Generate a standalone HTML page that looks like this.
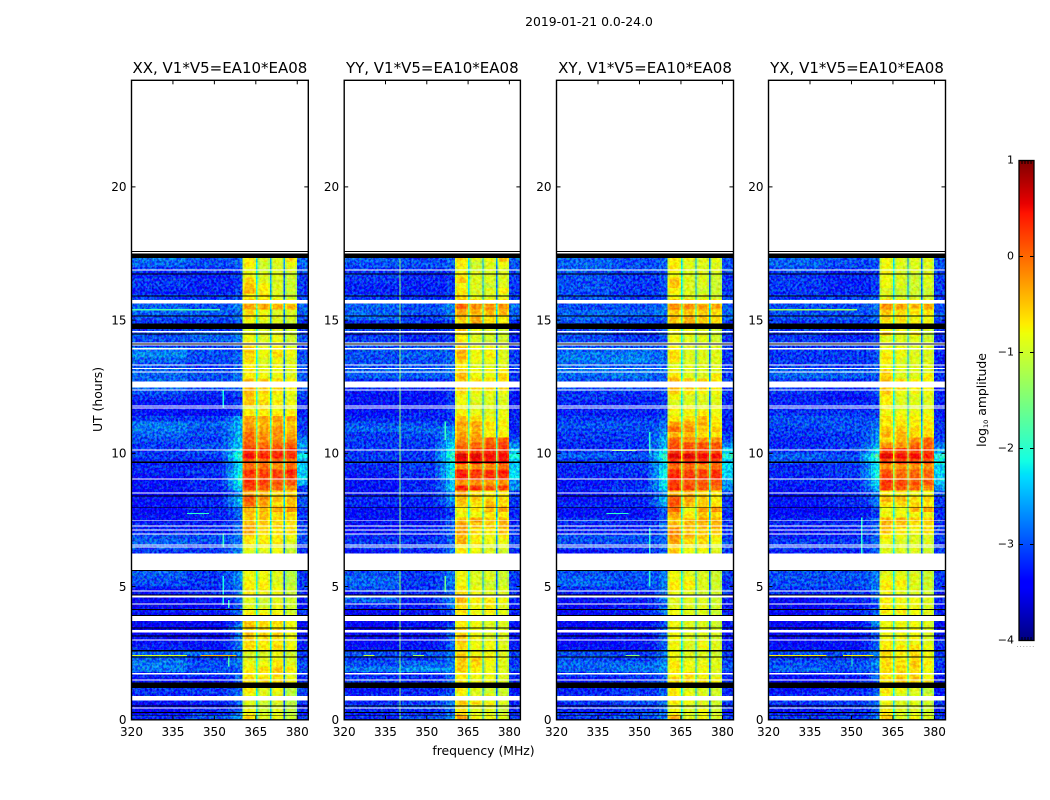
<!DOCTYPE html>
<html lang="en">
<head>
<meta charset="utf-8">
<title>2019-01-21 dynamic spectra</title>
<style>
html,body{margin:0;padding:0;background:#fff;width:1050px;height:800px;overflow:hidden}
svg{display:block}
text{font-family:"DejaVu Sans","Liberation Sans",sans-serif;fill:#000}
</style>
</head>
<body>
<svg id="figure" xmlns="http://www.w3.org/2000/svg" width="1050" height="800" viewBox="0 0 1050 800">
  <defs>
    <filter id="grain-strong" x="0" y="0" width="100%" height="100%" color-interpolation-filters="sRGB">
      <feTurbulence type="fractalNoise" baseFrequency="0.42 0.38" numOctaves="2" seed="11" result="n"/>
      <feColorMatrix in="n" type="matrix" values="1.5 0 0 0 -0.25  0 3.2 0 0 -1.1  0 0 3.2 0 -1.1  0 0 0 0 1" result="m"/>
      <feComposite in="SourceGraphic" in2="m" operator="arithmetic" k1="0" k2="1" k3="0.42" k4="-0.21"/>
    </filter>
    <filter id="grain-soft" x="0" y="0" width="100%" height="100%" color-interpolation-filters="sRGB">
      <feTurbulence type="fractalNoise" baseFrequency="0.3 0.35" numOctaves="2" seed="23" result="n"/>
      <feColorMatrix in="n" type="matrix" values="1.5 0 0 0 -0.25  0 3.2 0 0 -1.1  0 0 3.2 0 -1.1  0 0 0 0 1" result="m"/>
      <feComposite in="SourceGraphic" in2="m" operator="arithmetic" k1="0" k2="1" k3="0.22" k4="-0.11"/>
    </filter>
  </defs>
  <text x="589" y="26" font-size="12.4" text-anchor="middle">2019-01-21 0.0-24.0</text>
  <text x="483.5" y="755" font-size="12.4" text-anchor="middle">frequency (MHz)</text>
  <text transform="translate(102,399.5) rotate(-90)" font-size="12.4" text-anchor="middle">UT (hours)</text>
  <text transform="translate(986,400) rotate(-90)" font-size="12.4" text-anchor="middle">log<tspan font-size="6.5" dy="2">10</tspan><tspan dy="-2"> amplitude</tspan></text>
  <text x="1026" y="647" font-size="6" text-anchor="middle" letter-spacing="1.2" style="fill:#555">......</text>
</svg>
<script>
// ---------- data ----------
const panelLabels = ['XX, V1*V5=EA10*EA08', 'YY, V1*V5=EA10*EA08', 'XY, V1*V5=EA10*EA08', 'YX, V1*V5=EA10*EA08'];
const freqTicks = [320, 335, 350, 365, 380];
const utTicks = [0, 5, 10, 15, 20];
const colorTicks = [1, 0, -1, -2, -3, -4];
const rowStepHours = 0.2;

// Frequency channels (MHz edges), the level column each reads, how much of that column
// blends with the 340-353 column (band skirt), and a bandpass offset (tenths of log10).
const channelEdges  = [320, 330, 340, 347, 353, 355, 357, 358.5, 360.2, 360.9, 364.3, 365, 365.6, 366.3, 369.5, 370.2, 370.65, 371.3, 374.4, 375.1, 375.6, 376.3, 379.2, 379.9, 384];
const channelSource = [0, 0, 1, 1, 2, 2, 2, 2, 3, 3, 3, 4, 4, 4, 4, 5, 5, 5, 5, 6, 6, 6, 6, 7];
const channelBlend  = [1, 1, 1, 1, 0.25, 0.5, 0.75, 1, 1, 1, 1, 1, 1, 1, 1, 1, 1, 1, 1, 1, 1, 1, 1, 1];
const channelOffset = [-2, -2, -2, -2, -2, -2, -1, -1, -4, -1, -3, -14, -4, -1, -3, -17, -4, -1, -3, -20, -4, -1, -3, 0];

// Level rows (tenths of log10 amplitude), from 0 UT upward, one row per 0.2 h.
// Columns: 320-340, 340-353, 353-360, band1, band2, band3, band4, 380-384
const xxLevels = [
[-30,-28,-26,-5,-8,-7,-9,-31],[-32,-30,-28,-7,-9,-8,-10,-32],[-32,-31,-29,-8,-9,-8,-10,-33],[-31,-30,-28,-8,-9,-8,-10,-31],
[-30,-30,-28,-7,-8,-8,-10,-31],[-29,-29,-28,-6,-8,-7,-10,-30],[-30,-30,-29,-6,-7,-7,-9,-32],[-31,-31,-28,-5,-5,-5,-7,-32],
[-30,-29,-28,-6,-6,-5,-8,-31],[-26,-28,-28,-6,-5,-4,-6,-30],[-26,-28,-27,-7,-7,-6,-8,-30],[-27,-29,-27,-8,-8,-7,-8,-31],
[-27,-27,-27,-8,-8,-7,-9,-31],[-30,-31,-27,-5,-6,-5,-7,-32],[-31,-31,-27,-5,-6,-6,-7,-32],[-33,-33,-27,-4,-5,-5,-7,-33],
[-32,-32,-27,-4,-5,-5,-7,-33],[-32,-32,-26,-4,-5,-6,-7,-33],[-33,-33,-28,-4,-5,-5,-7,-33],[-32,-32,-28,-6,-6,-6,-8,-32],
[-31,-30,-28,-7,-7,-7,-9,-31],[-33,-33,-28,-8,-9,-7,-9,-33],[-32,-31,-28,-8,-9,-8,-9,-32],[-31,-30,-26,-6,-7,-7,-9,-32],
[-31,-30,-27,-6,-6,-7,-9,-31],[-28,-29,-26,-6,-6,-8,-10,-31],[-28,-29,-26,-7,-7,-8,-10,-31],[-27,-29,-26,-7,-7,-8,-10,-31],
[-29,-29,-27,-7,-7,-8,-10,-31],[-29,-29,-27,-7,-7,-8,-10,-31],[-29,-29,-27,-7,-7,-8,-10,-31],
[-29,-29,-26,-8,-8,-7,-9,-32],[-28,-29,-26,-7,-7,-7,-9,-31],[-27,-28,-27,-6,-6,-6,-8,-30],[-28,-28,-27,-5,-6,-6,-7,-30],
[-30,-30,-28,-2,-5,-6,-5,-30],[-30,-30,-28,-3,-4,-5,-6,-31],[-31,-31,-28,-4,-4,-5,-5,-31],[-31,-30,-28,-4,-4,-5,-5,-31],
[-32,-30,-27,-3,-3,-2,-1,-31],[-31,-30,-24,1,-2,-5,-4,-30],[-31,-30,-23,2,-1,-4,-3,-30],[-32,-31,-26,-2,-3,-5,-5,-31],
[-31,-30,-22,3,2,1,-1,-31],
[-31,-30,-20,4,3,2,2,-25],[-31,-30,-19,3,3,3,3,-24],[-30,-29,-21,4,3,3,5,-24],[-30,-30,-22,1,1,-1,1,-24],
[-30,-30,-20,2,1,1,1,-25],[-29,-29,-18,6,5,5,4,-22],[-29,-28,-21,4,3,3,4,-27],[-29,-28,-23,2,1,1,2,-26],
[-28,-29,-23,1,-1,-1,-1,-28],[-27,-28,-24,1,-1,-1,-2,-30],[-26,-28,-24,-1,-2,-1,-3,-31],[-26,-27,-24,-2,-3,-3,-4,-31],
[-29,-29,-25,-2,-2,-2,-2,-31],[-31,-31,-30,-6,-6,-6,-6,-32],[-31,-31,-30,-7,-6,-7,-7,-32],[-31,-31,-30,-4,-5,-6,-7,-32],
[-29,-30,-30,-4,-6,-7,-8,-31],[-28,-29,-29,-3,-5,-6,-7,-30],
[-27,-28,-28,-3,-4,-5,-6,-30],[-27,-28,-28,-3,-4,-5,-6,-30],[-27,-28,-27,-6,-7,-7,-8,-29],[-27,-28,-28,-6,-7,-7,-8,-30],
[-28,-29,-28,-6,-8,-7,-8,-30],[-27,-28,-28,-5,-8,-7,-8,-30],[-25,-28,-28,-5,-7,-5,-7,-30],[-26,-28,-29,-4,-7,-6,-7,-31],
[-29,-29,-29,-6,-8,-7,-9,-31],[-28,-27,-27,-7,-8,-7,-9,-30],[-28,-27,-27,-7,-8,-8,-9,-30],[-29,-29,-29,-8,-8,-8,-9,-31],
[-29,-29,-29,-7,-8,-8,-9,-31],[-28,-28,-28,-6,-7,-8,-8,-30],[-27,-27,-28,-5,-7,-8,-8,-29],[-27,-28,-26,-2,-2,-3,-3,-29],
[-28,-28,-28,-4,-5,-6,-7,-30],[-29,-29,-29,-6,-6,-8,-9,-30],[-30,-30,-30,-3,-6,-8,-9,-31],[-29,-30,-30,-4,-6,-8,-9,-31],
[-29,-30,-30,-5,-8,-8,-9,-31],[-30,-30,-30,-7,-8,-8,-9,-31],[-29,-29,-29,-7,-9,-8,-8,-30],[-27,-28,-28,-6,-9,-8,-7,-29],
[-26,-28,-28,-6,-8,-8,-5,-29]
];
const yyLevels = [
[-30,-28,-26,-2,-7,-7,-8,-31],[-30,-30,-28,-5,-8,-8,-9,-32],[-29,-28,-26,-5,-7,-7,-9,-32],[-30,-29,-27,-4,-5,-7,-8,-32],
[-30,-30,-28,-7,-8,-8,-9,-32],[-31,-30,-29,-6,-8,-9,-9,-33],[-31,-30,-29,-5,-7,-8,-9,-33],[-29,-30,-28,-6,-7,-7,-8,-32],
[-30,-30,-28,-6,-7,-7,-8,-32],[-26,-25,-26,-4,-6,-7,-8,-30],[-28,-27,-27,-4,-5,-7,-8,-31],[-29,-29,-27,-4,-4,-6,-8,-31],
[-28,-28,-27,-5,-7,-7,-8,-31],[-31,-31,-28,-5,-7,-7,-8,-32],[-32,-31,-28,-4,-7,-7,-8,-33],[-32,-31,-28,-4,-7,-8,-8,-33],
[-32,-31,-28,-5,-7,-8,-8,-33],[-32,-31,-29,-6,-7,-8,-8,-33],[-32,-31,-30,-6,-7,-8,-8,-33],[-32,-31,-29,-6,-7,-7,-8,-33],
[-32,-31,-28,-5,-7,-6,-8,-32],[-30,-31,-27,-5,-7,-6,-8,-33],[-27,-30,-26,-3,-6,-6,-7,-32],[-31,-30,-27,-5,-7,-8,-8,-32],
[-28,-29,-27,-6,-7,-8,-8,-31],[-27,-29,-27,-7,-8,-9,-9,-31],[-27,-29,-27,-7,-8,-8,-9,-31],[-28,-29,-27,-7,-8,-8,-9,-31],
[-29,-29,-27,-7,-8,-8,-9,-31],[-29,-29,-27,-7,-8,-8,-9,-31],[-29,-29,-27,-7,-8,-8,-9,-31],
[-31,-30,-27,-6,-7,-8,-9,-32],[-29,-29,-28,-6,-7,-8,-8,-31],[-29,-29,-28,-3,-6,-7,-7,-31],[-30,-30,-28,-3,-6,-7,-6,-31],
[-31,-30,-28,-2,-5,-6,-4,-31],[-31,-31,-28,-2,-4,-4,-3,-32],[-31,-31,-28,-4,-2,-4,-3,-32],[-31,-31,-30,-7,-7,-6,-6,-32],
[-31,-31,-29,-6,-6,-3,-2,-32],[-30,-30,-27,-4,-6,-3,-5,-31],[-30,-30,-25,-3,-4,-5,-5,-31],[-31,-30,-26,-2,-5,-6,-6,-31],
[-31,-30,-22,5,4,2,3,-26],
[-31,-30,-24,-1,-1,-2,-1,-27],[-31,-30,-21,5,3,4,4,-23],[-30,-29,-20,5,4,4,5,-23],[-30,-29,-22,-1,-1,-1,1,-24],
[-29,-29,-20,6,6,5,5,-24],[-29,-29,-18,7,7,6,6,-21],[-29,-29,-20,2,3,4,4,-24],[-29,-29,-22,1,1,2,3,-27],
[-29,-29,-24,-1,-1,1,2,-30],[-29,-28,-25,-2,-2,-6,-6,-32],[-27,-27,-26,-3,-3,-6,-7,-32],[-28,-28,-29,-2,-2,-5,-6,-32],
[-30,-30,-30,-4,-5,-7,-7,-32],[-31,-30,-30,-6,-7,-8,-7,-32],[-31,-31,-30,-7,-8,-8,-8,-33],[-31,-31,-30,-7,-8,-8,-8,-33],
[-31,-31,-30,-7,-8,-8,-8,-33],[-30,-31,-30,-5,-7,-7,-7,-32],
[-30,-30,-30,-4,-5,-5,-5,-32],[-30,-30,-30,-4,-5,-5,-5,-32],[-27,-27,-28,-3,-7,-7,-5,-31],[-27,-27,-27,-5,-7,-7,-6,-31],
[-28,-28,-28,-6,-8,-8,-8,-31],[-28,-28,-28,-4,-7,-7,-8,-31],[-28,-27,-28,-3,-7,-6,-8,-31],[-28,-28,-28,-3,-7,-7,-8,-32],
[-28,-28,-29,-5,-8,-8,-8,-32],[-29,-30,-30,-6,-8,-9,-9,-32],[-29,-30,-30,-6,-8,-8,-9,-32],[-29,-29,-30,-4,-7,-8,-9,-32],
[-29,-29,-30,-5,-2,-5,-6,-32],[-27,-29,-27,-4,-3,-5,-6,-29],[-27,-28,-27,-2,-3,-3,-3,-29],[-27,-28,-26,1,-1,-1,-1,-28],
[-28,-28,-28,-4,-5,-6,-6,-30],[-29,-30,-30,-5,-8,-8,-8,-31],[-30,-30,-30,-6,-8,-8,-6,-31],[-30,-30,-30,-7,-8,-9,-8,-31],
[-29,-30,-30,-4,-8,-8,-8,-31],[-29,-30,-30,-6,-8,-8,-8,-31],[-29,-29,-29,-7,-9,-8,-8,-30],[-28,-28,-28,-6,-9,-8,-7,-30],
[-27,-28,-28,-5,-8,-7,-4,-29]
];
const xyLevels = [
[-29,-28,-27,-3,-8,-7,-8,-31],[-30,-29,-28,-7,-8,-7,-9,-32],[-30,-29,-28,-7,-8,-8,-9,-32],[-29,-28,-27,-6,-7,-8,-9,-31],
[-30,-29,-28,-6,-7,-8,-9,-32],[-30,-29,-28,-6,-8,-8,-9,-32],[-30,-30,-28,-6,-7,-8,-9,-32],[-31,-30,-28,-5,-5,-6,-7,-32],
[-29,-29,-28,-6,-5,-7,-8,-32],[-27,-26,-26,-6,-7,-7,-8,-30],[-27,-27,-26,-6,-7,-7,-8,-30],[-28,-29,-27,-7,-8,-8,-8,-31],
[-28,-29,-27,-7,-8,-8,-9,-31],[-31,-31,-28,-7,-8,-7,-8,-32],[-32,-31,-28,-7,-8,-7,-8,-32],[-32,-31,-28,-7,-8,-8,-9,-33],
[-32,-31,-28,-7,-8,-8,-8,-33],[-32,-31,-29,-7,-8,-8,-9,-33],[-33,-32,-29,-7,-8,-8,-9,-33],[-32,-31,-28,-7,-8,-8,-9,-33],
[-32,-30,-27,-7,-8,-8,-9,-32],[-33,-31,-28,-8,-8,-8,-9,-33],[-31,-30,-27,-8,-8,-8,-9,-32],[-31,-30,-28,-7,-8,-9,-9,-32],
[-29,-29,-27,-6,-7,-8,-9,-31],[-27,-28,-27,-6,-6,-8,-9,-31],[-27,-28,-27,-7,-7,-8,-9,-31],[-28,-28,-27,-7,-8,-8,-9,-31],
[-29,-29,-27,-7,-8,-8,-9,-31],[-29,-29,-27,-7,-8,-8,-9,-31],[-29,-29,-27,-7,-8,-8,-9,-31],
[-31,-30,-28,-4,-7,-7,-8,-31],[-29,-29,-28,-5,-7,-6,-8,-31],[-28,-28,-28,-2,-5,-5,-7,-30],[-28,-28,-28,-1,-3,-4,-6,-31],
[-30,-30,-28,-1,-4,-4,-4,-31],[-30,-30,-27,-3,-3,-3,-3,-31],[-29,-30,-28,-4,-3,-2,-3,-31],[-31,-31,-29,-2,-6,-4,-5,-32],
[-31,-31,-28,1,-7,-2,-1,-31],[-30,-30,-24,2,-3,-4,-6,-31],[-31,-30,-24,2,-2,-4,-6,-31],[-31,-30,-26,-3,-3,-5,-6,-30],
[-30,-29,-22,4,3,2,1,-27],
[-31,-30,-21,3,2,2,2,-26],[-30,-30,-20,5,4,3,4,-24],[-30,-29,-20,4,3,3,4,-23],[-30,-29,-22,1,1,-1,1,-23],
[-29,-29,-20,4,4,4,3,-24],[-27,-28,-18,7,7,6,6,-20],[-29,-29,-21,3,3,3,2,-24],[-30,-29,-24,2,2,2,2,-27],
[-29,-29,-24,1,-1,-1,-1,-30],[-29,-29,-25,-3,-3,-5,-6,-31],[-28,-28,-27,1,-1,-4,-4,-32],[-28,-28,-28,-2,-2,-3,-6,-32],
[-29,-29,-29,-6,-5,-3,-6,-32],[-30,-30,-30,-7,-7,-6,-7,-32],[-30,-30,-30,-6,-6,-7,-7,-32],[-30,-30,-30,-8,-8,-8,-8,-32],
[-29,-30,-30,-7,-8,-8,-8,-32],[-29,-29,-29,-4,-6,-7,-7,-31],
[-28,-28,-29,-3,-4,-4,-6,-31],[-28,-28,-29,-3,-4,-4,-6,-31],[-27,-26,-28,-5,-8,-8,-6,-31],[-26,-26,-27,-7,-8,-8,-8,-31],
[-27,-27,-28,-8,-8,-8,-8,-31],[-26,-25,-28,-6,-8,-8,-8,-31],[-26,-26,-28,-5,-8,-8,-8,-31],[-27,-27,-28,-6,-8,-8,-8,-31],
[-28,-28,-29,-7,-8,-8,-8,-31],[-28,-29,-29,-7,-8,-8,-9,-31],[-28,-29,-29,-7,-7,-8,-9,-31],[-28,-29,-29,-7,-7,-8,-9,-31],
[-28,-28,-29,-4,-2,-4,-5,-30],[-27,-28,-28,-4,-3,-4,-5,-29],[-27,-27,-27,-4,-4,-4,-5,-29],[-28,-28,-27,-1,-1,-2,-2,-29],
[-28,-28,-28,-4,-5,-6,-6,-30],[-28,-29,-29,-7,-8,-8,-9,-31],[-28,-29,-29,-6,-8,-9,-9,-31],[-28,-29,-29,-4,-8,-8,-9,-31],
[-28,-29,-29,-4,-8,-8,-9,-31],[-28,-29,-29,-7,-8,-8,-9,-31],[-27,-28,-28,-6,-8,-8,-8,-30],[-27,-28,-28,-6,-8,-8,-8,-30],
[-27,-28,-28,-6,-7,-8,-8,-30]
];
const yxLevels = [
[-29,-29,-27,-4,-8,-7,-8,-31],[-31,-30,-29,-6,-8,-8,-9,-32],[-30,-29,-28,-7,-8,-8,-9,-32],[-29,-29,-28,-7,-8,-8,-9,-31],
[-30,-30,-28,-7,-8,-8,-9,-32],[-31,-30,-29,-6,-7,-8,-10,-33],[-31,-30,-29,-6,-7,-8,-10,-33],[-32,-31,-28,-5,-4,-4,-6,-33],
[-31,-30,-28,-6,-5,-5,-7,-32],[-27,-28,-27,-5,-5,-5,-7,-31],[-28,-28,-26,-5,-5,-4,-6,-31],[-29,-29,-27,-5,-6,-5,-7,-31],
[-28,-28,-27,-5,-6,-5,-7,-31],[-31,-31,-28,-6,-6,-5,-7,-32],[-32,-31,-28,-6,-7,-7,-8,-32],[-32,-32,-29,-7,-7,-7,-8,-33],
[-32,-31,-28,-7,-7,-7,-8,-33],[-32,-31,-27,-7,-7,-7,-8,-33],[-33,-32,-25,-7,-7,-7,-8,-33],[-32,-31,-28,-7,-7,-7,-8,-33],
[-32,-30,-28,-6,-6,-7,-8,-32],[-33,-32,-29,-6,-7,-7,-8,-33],[-32,-30,-28,-6,-7,-7,-8,-32],[-30,-30,-28,-7,-8,-8,-9,-32],
[-29,-29,-27,-6,-7,-8,-9,-31],[-28,-28,-27,-6,-6,-8,-9,-31],[-28,-28,-27,-7,-7,-8,-9,-31],[-28,-28,-27,-8,-8,-8,-9,-31],
[-29,-29,-27,-8,-8,-8,-9,-31],[-29,-29,-27,-8,-8,-8,-9,-31],[-29,-29,-27,-8,-8,-8,-9,-31],
[-30,-30,-28,-8,-8,-8,-9,-31],[-29,-29,-28,-8,-8,-8,-9,-31],[-29,-29,-28,-7,-8,-8,-8,-31],[-30,-30,-28,-6,-7,-8,-8,-31],
[-31,-30,-28,-4,-6,-7,-5,-31],[-30,-30,-28,-3,-4,-6,-5,-31],[-30,-30,-28,-3,-3,-4,-4,-32],[-31,-31,-30,-7,-7,-7,-7,-32],
[-32,-31,-30,-7,-7,-3,-2,-32],[-31,-30,-27,-5,-5,-5,-6,-31],[-31,-30,-27,-3,-3,-5,-5,-31],[-31,-30,-27,-6,-6,-7,-7,-30],
[-31,-30,-24,3,2,1,-1,-27],
[-30,-30,-22,4,3,2,2,-24],[-30,-29,-20,3,1,1,1,-24],[-30,-29,-20,2,1,1,1,-23],[-30,-29,-22,-1,-1,-1,-1,-24],
[-28,-28,-19,3,3,3,2,-22],[-27,-28,-17,7,6,6,5,-20],[-29,-29,-22,3,3,3,3,-26],[-30,-29,-24,-1,-1,1,1,-28],
[-30,-29,-26,-5,-3,-1,1,-30],[-29,-29,-26,-3,-3,-5,-5,-31],[-29,-28,-27,-4,-4,-5,-5,-31],[-28,-28,-28,-6,-6,-6,-6,-31],
[-28,-28,-29,-5,-6,-6,-6,-32],[-29,-29,-30,-7,-7,-7,-7,-32],[-30,-30,-30,-7,-8,-8,-8,-32],[-30,-30,-30,-6,-8,-8,-8,-32],
[-30,-31,-30,-6,-8,-8,-8,-32],[-29,-30,-29,-4,-7,-7,-7,-32],
[-29,-30,-29,-4,-5,-6,-6,-32],[-29,-30,-29,-4,-5,-6,-6,-32],[-27,-27,-29,-4,-8,-8,-6,-31],[-27,-27,-28,-5,-8,-8,-8,-31],
[-29,-29,-29,-7,-8,-8,-8,-32],[-29,-29,-29,-6,-8,-8,-8,-32],[-29,-29,-29,-6,-7,-8,-8,-32],[-29,-29,-29,-7,-7,-8,-8,-32],
[-29,-29,-30,-7,-8,-8,-8,-32],[-29,-30,-30,-8,-8,-8,-9,-32],[-29,-30,-30,-4,-7,-6,-9,-32],[-29,-29,-30,-7,-7,-8,-9,-32],
[-29,-29,-29,-6,-6,-6,-7,-31],[-28,-28,-28,-5,-5,-7,-7,-30],[-28,-28,-28,-4,-5,-6,-6,-30],[-28,-28,-27,-1,-2,-3,-2,-30],
[-28,-28,-28,-5,-6,-7,-7,-31],[-29,-29,-29,-8,-9,-9,-9,-31],[-29,-30,-30,-8,-9,-9,-9,-31],[-29,-30,-30,-7,-8,-9,-8,-31],
[-29,-30,-30,-7,-8,-9,-8,-31],[-29,-30,-30,-7,-8,-9,-8,-31],[-28,-29,-29,-7,-8,-8,-8,-30],[-27,-28,-29,-7,-8,-8,-8,-30],
[-27,-28,-28,-7,-8,-8,-8,-30]
];
const panelLevels = [xxLevels, yyLevels, xyLevels, yxLevels];

// Narrow interference features: [UT start, UT end, MHz start, MHz end, tenths of log10]
const rfiXX = [[2.40,2.44,320,340,-9],[2.40,2.44,345,358,-4],[15.37,15.41,320,352,-18],[7.72,7.76,340,348,-20],[4.3,5.4,353,353.4,-21],[6.5,7,353,353.4,-19],[11.7,12.4,353,353.4,-21],[2,2.4,355,355.4,-18],[4.2,4.5,355,355.4,-19]];
const rfiYY = [[0,17.3,340,340.4,-14],[10.5,11.2,356.5,356.9,-19],[4.8,5.4,356.5,356.9,-16],[2.39,2.43,327,331,-10],[2.39,2.43,345,349,-12]];
const rfiXY = [[5,7.2,353.5,353.9,-20],[10,10.8,353.5,353.9,-20],[7.72,7.76,338,346,-20],[2.39,2.43,345,350,-14],[10.08,10.12,340,349,-14]];
const rfiYX = [[2.39,2.43,320,341,-7],[2.39,2.43,347,358,-7],[15.37,15.41,320,352,-13],[6.2,7.6,353.5,353.9,-20],[2,2.4,350,350.4,-20]];
const panelRfi = [rfiXX, rfiYY, rfiXY, rfiYX];

// Flagged time ranges (UT hours), shared by all panels.
const whiteFlags = [[0.432,0.469],[0.732,0.893],[1.471,1.508],[1.707,1.756],[2.983,3.021],[3.283,3.370],[3.707,3.895],[4.334,4.371],[4.585,4.660],[4.811,4.848],[5.629,6.248],[6.473,6.499],[6.537,6.574],[6.949,6.987],[7.099,7.137],[7.261,7.298],[7.460,7.486],[8.488,8.525],[9.024,9.051],[10.113,10.139],[11.689,11.726],[11.764,11.801],[12.364,12.402],[12.477,12.702],[13.039,13.077],[13.171,13.208],[13.291,13.328],[13.902,13.951],[14.053,14.090],[14.128,14.165],[14.540,14.589],[15.629,15.752],[16.867,16.904],[17.505,17.561]];
const blackFlags = [[0.158,0.180],[0.255,0.293],[0.507,0.544],[1.193,1.396],[2.345,2.383],[2.570,2.619],[3.133,3.171],[3.422,3.460],[3.895,3.932],[4.120,4.158],[4.660,4.709],[5.584,5.621],[7.947,7.974],[8.386,8.424],[9.636,9.700],[14.090,14.128],[14.465,14.503],[14.664,14.878],[15.141,15.178],[15.880,15.917],[16.717,16.754],[17.336,17.505],[17.561,17.598]];

// ---------- scales ----------
const SVGNS = 'http://www.w3.org/2000/svg';
const figure = document.getElementById('figure');
const PANEL_LEFT = [131.5, 344.2, 556.5, 768.5];
const PANEL_W = [176.8, 176.2, 177, 177];
const PANEL_TOP = 80.3;
const PANEL_BOTTOM = 719.8;
const yScale = h => PANEL_BOTTOM - (h / 24) * (PANEL_BOTTOM - PANEL_TOP);
const xScale = (p, f) => PANEL_LEFT[p] + ((f - 320) / 64) * PANEL_W[p];
const cbTop = 160.5, cbBottom = 640.5, cbLeft = 1019, cbRight = 1034;
const cbScale = v => cbBottom - ((v + 4) / 5) * (cbBottom - cbTop);

const ramp = (pos, pts) => {
  for (let i = 1; i < pts.length; i++) {
    if (pos <= pts[i][0]) {
      const a = pts[i - 1], b = pts[i];
      return a[1] + (b[1] - a[1]) * (pos - a[0]) / (b[0] - a[0]);
    }
  }
  return pts[pts.length - 1][1];
};
const JET_R = [[0,0],[0.35,0],[0.66,1],[0.89,1],[1,0.5]];
const JET_G = [[0,0],[0.125,0],[0.375,1],[0.64,1],[0.91,0],[1,0]];
const JET_B = [[0,0.5],[0.11,1],[0.34,1],[0.65,0],[1,0]];
function jet(logAmp) {
  const pos = Math.min(1, Math.max(0, (logAmp + 4) / 5));
  const c = v => Math.round(255 * v);
  return 'rgb(' + c(ramp(pos, JET_R)) + ',' + c(ramp(pos, JET_G)) + ',' + c(ramp(pos, JET_B)) + ')';
}

function addRect(parent, x0, y0, x1, y1, fill) {
  const el = document.createElementNS(SVGNS, 'rect');
  el.setAttribute('x', x0);
  el.setAttribute('y', y0);
  el.setAttribute('width', x1 - x0);
  el.setAttribute('height', y1 - y0);
  el.setAttribute('fill', fill);
  el.setAttribute('shape-rendering', 'crispEdges');
  parent.appendChild(el);
  return el;
}
function addGroup(parent) {
  const el = document.createElementNS(SVGNS, 'g');
  parent.appendChild(el);
  return el;
}
function addLine(parent, x1, y1, x2, y2) {
  const el = document.createElementNS(SVGNS, 'line');
  el.setAttribute('x1', x1);
  el.setAttribute('y1', y1);
  el.setAttribute('x2', x2);
  el.setAttribute('y2', y2);
  el.setAttribute('stroke', '#000');
  el.setAttribute('stroke-width', '1');
  parent.appendChild(el);
  return el;
}
function addText(parent, x, y, size, anchor, str) {
  const el = document.createElementNS(SVGNS, 'text');
  el.setAttribute('x', x);
  el.setAttribute('y', y);
  el.setAttribute('font-size', size);
  el.setAttribute('text-anchor', anchor);
  el.textContent = str;
  parent.appendChild(el);
  return el;
}

// ---------- panels ----------
panelLabels.forEach((label, p) => {
  const panel = addGroup(figure);
  
  

  const bgGroup = addGroup(panel);
  
  
  bgGroup.setAttribute('filter', 'url(#grain-strong)');
  const bandGroup = addGroup(panel);
  
  
  bandGroup.setAttribute('filter', 'url(#grain-soft)');

  panelLevels[p].forEach((row, r) => {
    const yTop = yScale((r + 1) * rowStepHours);
    const yBot = yScale(r * rowStepHours);
    channelSource.forEach((src, c) => {
      const mix = channelBlend[c];
      const level = mix < 1 ? row[1] * (1 - mix) + row[src] * mix : row[src];
      const logAmp = (level + channelOffset[c]) / 10;
      const group = (src >= 3 && src <= 6) ? bandGroup : bgGroup;
      const cell = addRect(group, xScale(p, channelEdges[c]), yTop, xScale(p, channelEdges[c + 1]), yBot, jet(logAmp));
      
      
    });
  });

  panelRfi[p].forEach(item => {
    const mark = addRect(panel, xScale(p, item[2]), yScale(item[1]), xScale(p, item[3]), yScale(item[0]), jet(item[4] / 10));
    
    
  });

  whiteFlags.forEach(f => {
    const band = addRect(panel, xScale(p, 320), yScale(f[1]), xScale(p, 384), yScale(f[0]), '#fff');
    
    
  });
  blackFlags.forEach(f => {
    const band = addRect(panel, xScale(p, 320), yScale(f[1]), xScale(p, 384), yScale(f[0]), '#000');
    
    
  });

  const frame = document.createElementNS(SVGNS, 'rect');
  frame.setAttribute('x', PANEL_LEFT[p]);
  frame.setAttribute('y', PANEL_TOP);
  frame.setAttribute('width', PANEL_W[p]);
  frame.setAttribute('height', PANEL_BOTTOM - PANEL_TOP);
  frame.setAttribute('fill', 'none');
  frame.setAttribute('stroke', '#000');
  frame.setAttribute('stroke-width', '1.4');
  
  
  panel.appendChild(frame);

  freqTicks.forEach(f => {
    const x = xScale(p, f);
    const tickB = addLine(panel, x, PANEL_BOTTOM, x, PANEL_BOTTOM - 4);
    
    
    const tickT = addLine(panel, x, PANEL_TOP, x, PANEL_TOP + 4);
    
    
    const lab = addText(panel, x, 736, 12, 'middle', String(f));
    
    
  });
  utTicks.forEach(h => {
    const y = yScale(h);
    const right = PANEL_LEFT[p] + PANEL_W[p];
    const tickL = addLine(panel, PANEL_LEFT[p], y, PANEL_LEFT[p] + 4, y);
    
    
    const tickR = addLine(panel, right, y, right - 4, y);
    
    
    const lab = addText(panel, PANEL_LEFT[p] - 5, y + 4.3, 12, 'end', String(h));
    
    
  });
  const title = addText(panel, PANEL_LEFT[p] + PANEL_W[p] / 2, 73, 15, 'middle', label);
  
  
});

// ---------- colorbar ----------
const colorbar = addGroup(figure);


const cbSteps = 240;
for (let i = 0; i < cbSteps; i++) {
  const lo = -4 + 5 * i / cbSteps;
  const hi = -4 + 5 * (i + 1) / cbSteps;
  const strip = addRect(colorbar, cbLeft, cbScale(hi), cbRight, cbScale(lo), jet((lo + hi) / 2));
  
  
}
const cbFrame = document.createElementNS(SVGNS, 'rect');
cbFrame.setAttribute('x', cbLeft);
cbFrame.setAttribute('y', cbTop);
cbFrame.setAttribute('width', cbRight - cbLeft);
cbFrame.setAttribute('height', cbBottom - cbTop);
cbFrame.setAttribute('fill', 'none');
cbFrame.setAttribute('stroke', '#000');
cbFrame.setAttribute('stroke-width', '1.3');


colorbar.appendChild(cbFrame);
colorTicks.forEach(v => {
  const y = cbScale(v);
  const tl = addLine(colorbar, cbLeft, y, cbLeft + 4, y);
  
  
  const tr = addLine(colorbar, cbRight, y, cbRight - 4, y);
  
  
  const lab = addText(colorbar, 1014, y + 2.8, 11, 'end', String(v).replace('-', '\u2212'));
  
  
});
for (let i = 1; i <= 4; i++) {
  const x = cbLeft + i * (cbRight - cbLeft) / 5;
  const t = addLine(colorbar, x, cbTop, x, cbTop + 3.5);
  
  
  const b = addLine(colorbar, x, cbBottom, x, cbBottom - 3.5);
  
  
}
</script>
</body>
</html>
